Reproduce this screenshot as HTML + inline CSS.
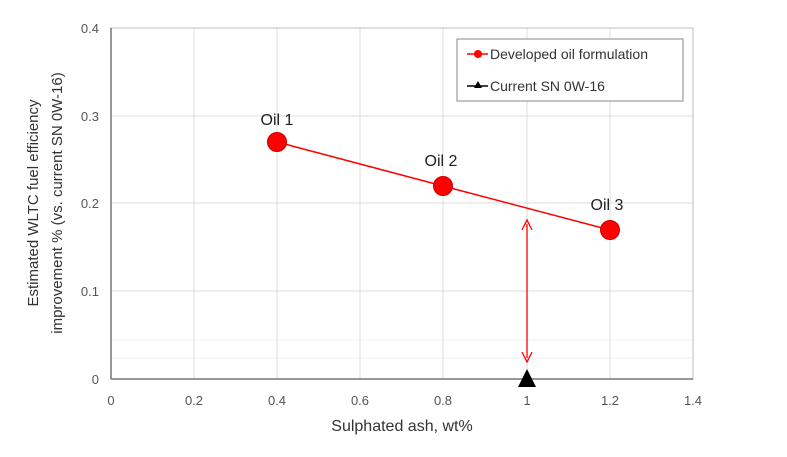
<!DOCTYPE html><html><head><style>body{margin:0;background:#fff}</style></head><body>
<svg width="787" height="452" xmlns="http://www.w3.org/2000/svg" font-family="Liberation Sans, DejaVu Sans, sans-serif">
<rect width="787" height="452" fill="#fff"/>
<g stroke="#f0f0f0" stroke-width="1">
<line x1="111" y1="340" x2="693" y2="340"/><line x1="111" y1="358" x2="693" y2="358"/>
</g>
<g stroke="#dcdcdc" stroke-width="1">
<line x1="111" y1="28" x2="693" y2="28"/><line x1="111" y1="116" x2="693" y2="116"/><line x1="111" y1="203" x2="693" y2="203"/><line x1="111" y1="291" x2="693" y2="291"/>
<line x1="194" y1="28" x2="194" y2="379"/><line x1="277" y1="28" x2="277" y2="379"/><line x1="360" y1="28" x2="360" y2="379"/><line x1="443" y1="28" x2="443" y2="379"/><line x1="527" y1="28" x2="527" y2="379"/><line x1="610" y1="28" x2="610" y2="379"/><line x1="693" y1="28" x2="693" y2="379"/>
</g>
<rect x="111" y="28" width="582" height="351" fill="none" stroke="#bdbdbd"/>
<line x1="111" y1="28" x2="111" y2="379" stroke="#777" stroke-width="1.5"/>
<line x1="111" y1="379" x2="693" y2="379" stroke="#777" stroke-width="1.5"/>
<g font-size="13" fill="#555" text-anchor="end">
<text x="99" y="33">0.4</text><text x="99" y="121">0.3</text><text x="99" y="208">0.2</text><text x="99" y="296">0.1</text><text x="99" y="384">0</text>
</g>
<g font-size="13" fill="#555" text-anchor="middle">
<text x="111" y="405">0</text><text x="194" y="405">0.2</text><text x="277" y="405">0.4</text><text x="360" y="405">0.6</text><text x="443" y="405">0.8</text><text x="527" y="405">1</text><text x="610" y="405">1.2</text><text x="693" y="405">1.4</text>
</g>
<text x="402" y="431" font-size="16" fill="#333" text-anchor="middle">Sulphated ash, wt%</text>
<text transform="translate(38,203) rotate(-90)" font-size="15" fill="#333" text-anchor="middle">Estimated WLTC fuel efficiency</text>
<text transform="translate(62,203) rotate(-90)" font-size="15" fill="#333" text-anchor="middle">improvement % (vs. current SN 0W-16)</text>
<polyline points="277,142 443,186 610,230" fill="none" stroke="#f00" stroke-width="1.5"/>
<g fill="#f00" stroke="#c00"><circle cx="277" cy="142" r="9.5"/><circle cx="443" cy="186" r="9.5"/><circle cx="610" cy="230" r="9.5"/></g>
<g font-size="16" fill="#222" text-anchor="middle"><text x="277" y="125">Oil 1</text><text x="441" y="166">Oil 2</text><text x="607" y="210">Oil 3</text></g>
<line x1="527" y1="224" x2="527" y2="358" stroke="#f00" stroke-width="1.3"/>
<path d="M522,230 L527,220 L532,230" fill="none" stroke="#f00" stroke-width="1.3"/>
<path d="M522,352 L527,362 L532,352" fill="none" stroke="#f00" stroke-width="1.3"/>
<polygon points="527,369 518,387 536,387" fill="#000"/>
<rect x="457" y="39" width="226" height="62" fill="#fff" stroke="#888"/>
<line x1="467" y1="54" x2="488" y2="54" stroke="#f00" stroke-width="1.5"/><circle cx="478" cy="54" r="4" fill="#f00"/>
<text x="490" y="59" font-size="14" fill="#333">Developed oil formulation</text>
<line x1="467" y1="86" x2="488" y2="86" stroke="#000" stroke-width="1.5"/><polygon points="478,81 474,88 482,88" fill="#000"/>
<text x="490" y="91" font-size="14" fill="#333">Current SN 0W-16</text>
</svg></body></html>
